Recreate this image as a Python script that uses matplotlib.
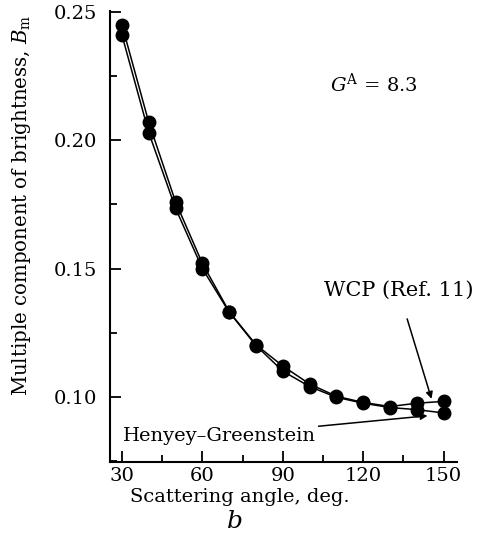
import matplotlib
matplotlib.use("Agg")
import matplotlib.pyplot as plt
from matplotlib.ticker import MultipleLocator

plt.rcParams['font.family'] = ['DejaVu Serif']
plt.rcParams['mathtext.fontset'] = 'dejavuserif'

angles = [30, 40, 50, 60, 70, 80, 90, 100, 110, 120, 130, 140, 150]
wcp = [0.245, 0.207, 0.176, 0.152, 0.1332, 0.1203, 0.112, 0.105, 0.1002, 0.0978, 0.0962, 0.0975, 0.0982]
hg = [0.241, 0.203, 0.1735, 0.150, 0.1330, 0.1200, 0.110, 0.104, 0.0998, 0.0975, 0.0958, 0.0950, 0.0937]

fig = plt.figure(figsize=(4.78, 5.46), dpi=100)
ax = fig.add_axes([0.230, 0.154, 0.726, 0.826])

for s in (wcp, hg):
    ax.plot(angles, s, color='black', lw=1.1, marker='o', ms=9, zorder=3)

ax.set_xlim(25.5, 155)
ax.set_ylim(0.0746, 0.2505)
ax.xaxis.set_major_locator(MultipleLocator(30))
ax.xaxis.set_minor_locator(MultipleLocator(15))
ax.yaxis.set_major_locator(MultipleLocator(0.05))
ax.yaxis.set_minor_locator(MultipleLocator(0.025))
ax.tick_params(which='both', direction='in', width=1.3, labelsize=14, top=False, right=False)
ax.tick_params(which='major', length=8)
ax.tick_params(which='minor', length=5)
ax.tick_params(axis='y', which='major', pad=9)
ax.tick_params(axis='x', which='major', pad=4)
ax.yaxis.set_major_formatter(matplotlib.ticker.FormatStrFormatter('%.2f'))
for sp in ('top', 'right'):
    ax.spines[sp].set_visible(False)
for sp in ('left', 'bottom'):
    ax.spines[sp].set_linewidth(1.5)

ax.set_xlabel('Scattering angle, deg.', fontsize=14)
ax.set_ylabel(r'Multiple component of brightness, $B_\mathrm{m}$', fontsize=14.2)
ax.xaxis.set_label_coords(0.375, -0.058)
ax.yaxis.set_label_coords(-0.222, 0.57)

ax.text(107.8, 0.2218, r'$G^\mathrm{A}$ = 8.3', fontsize=14, ha='left', va='center')

ax.annotate('WCP (Ref. 11)', xy=(145.5, 0.0992), xytext=(133.2, 0.1414),
            fontsize=15, ha='center', va='center',
            arrowprops=dict(arrowstyle='-|>', color='black', lw=1.1, mutation_scale=10,
                            shrinkA=12, shrinkB=0))
ax.annotate('Henyey\u2013Greenstein', xy=(144.0, 0.0926), xytext=(66.3, 0.0848),
            fontsize=14, ha='center', va='center',
            arrowprops=dict(arrowstyle='-|>', color='black', lw=1.1, mutation_scale=10,
                            shrinkA=80, shrinkB=0))

fig.text(235/478, 1-522/546, 'b', fontsize=18, style='italic', ha='center', va='center')

fig.savefig('out.png', dpi=100)
